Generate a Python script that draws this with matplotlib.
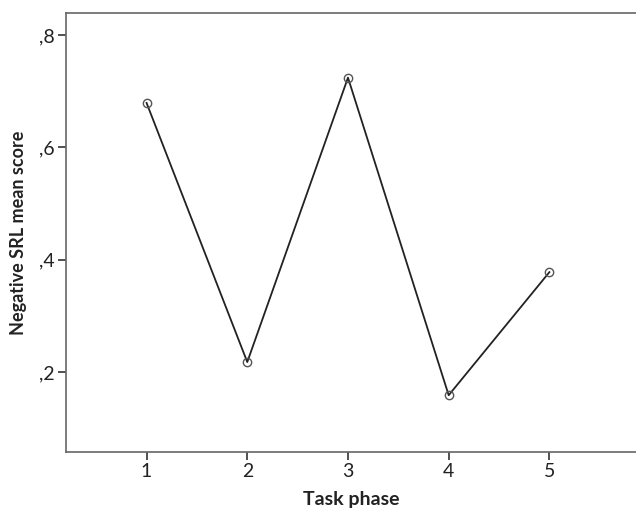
import numpy as np
import matplotlib.pyplot as plt
from matplotlib.ticker import FuncFormatter

# task phases and mean scores
phases = [1, 2, 3, 4, 5]
mean_score = [0.679, 0.218, 0.724, 0.159, 0.378]
yticks = [0.2, 0.4, 0.6, 0.8]

plt.rcParams['font.family'] = ['Lato', 'DejaVu Sans']

fig = plt.figure(figsize=(6.36, 5.18), dpi=100)
ax = fig.add_axes([66/636, 1-452/518, 1-66/636, 439/518])

ax.plot(phases, mean_score, color="#222222", lw=1.3, marker="o",
        markersize=6, markerfacecolor="none", markeredgecolor="#555555",
        markeredgewidth=1.0)

ax.set_xlim(0.2, 5.86)
ax.set_ylim(0.058, 0.839)
ax.set_xticks(phases)
ax.set_yticks(yticks)
ax.yaxis.set_major_formatter(FuncFormatter(lambda v, p: ("%.1f" % v).lstrip("0").replace(".", ",")))

for s in ["left", "bottom", "top"]:
    ax.spines[s].set_color("#666666")
    ax.spines[s].set_linewidth(1.2)
ax.spines["right"].set_visible(False)

ax.tick_params(axis="both", direction="out", length=6, width=1.2, color="#333333",
               labelsize=14, labelcolor="#222222", pad=2)

ax.set_xlabel("Task phase", fontsize=14, fontweight="bold", color="#222222", labelpad=8)
ax.set_ylabel("Negative SRL mean score", fontsize=13, fontweight="bold", color="#222222", labelpad=9)

fig.savefig("out.png", dpi=100)
